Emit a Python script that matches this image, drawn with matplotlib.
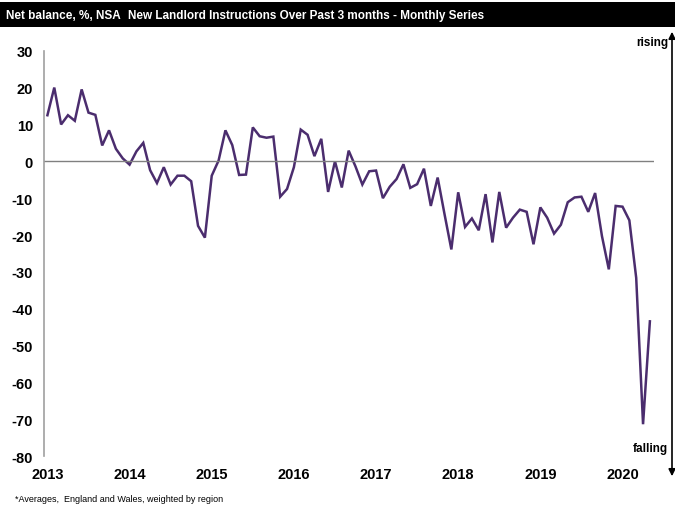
#!/usr/bin/env python3
#
# New landlord instructions, net balance, monthly series

import numpy as np
import matplotlib as mpl
mpl.use('Agg')
import matplotlib.pyplot as plt
from matplotlib.patches import Rectangle, FancyArrowPatch

FONT = ['Liberation Sans', 'DejaVu Sans']
LINE_COLOR = '#4b2d6e'

# Monthly values, Jan 2013 .. May 2020
start_year = 2013
balance = [
    12.5, 20.0, 10.0, 12.5, 11.0, 19.5, 13.2, 12.6, 4.3, 8.4, 3.4, 0.8,
    -0.9, 2.7, 5.0, -2.4, -5.9, -1.6, -6.3, -3.9, -3.9, -5.4, -17.5, -20.7,
    -3.9, 0.2, 8.4, 4.4, -3.7, -3.6, 9.2, 6.8, 6.4, 6.7, -9.6, -7.5,
    -1.6, 8.6, 7.2, 1.4, 6.1, -8.3, 0.0, -7.1, 2.9, -1.4, -6.3, -2.7,
    -2.5, -10.0, -6.9, -4.8, -0.8, -7.2, -6.2, -2.0, -12.1, -4.4, -14.3, -23.9,
    -8.4, -17.8, -15.5, -18.7, -8.9, -22.0, -8.3, -18.0, -15.3, -13.1, -13.7, -22.5,
    -12.5, -15.3, -19.6, -17.2, -11.1, -9.8, -9.6, -13.7, -8.6, -20.3, -29.3, -12.1,
    -12.3, -16.0, -31.6, -71.3, -43.4,
]
year_labels = ['2013', '2014', '2015', '2016', '2017', '2018', '2019', '2020']
y_ticks = [30, 20, 10, 0, -10, -20, -30, -40, -50, -60, -70, -80]

plt.rcParams['font.family'] = FONT

fig = plt.figure(figsize=(6.75, 5.1), dpi=100, facecolor='white')
ax = fig.add_axes([44/675, 1 - 457.3/510, (654 - 44)/675, (457.3 - 51.7)/510])

months = np.arange(len(balance))
ax.plot(months, balance, color=LINE_COLOR, lw=1.8, solid_joinstyle='miter')
ax.axhline(0, color='#808080', lw=1)

ax.set_xlim(-0.5, 88.6)
ax.set_ylim(-80, 30)
ax.set_yticks(y_ticks)
ax.set_yticklabels([str(v) for v in y_ticks], fontsize=10.5, fontweight='bold')
ax.set_xticks(np.arange(len(year_labels)) * 12)
ax.set_xticklabels(year_labels, fontsize=10.5, fontweight='bold')
ax.tick_params(axis='both', length=0)
ax.tick_params(axis='y', pad=8)
ax.tick_params(axis='x', pad=8)

for s in ['top', 'right', 'bottom']:
    ax.spines[s].set_visible(False)
ax.spines['left'].set_color('#a0a0a0')
ax.spines['left'].set_linewidth(1.2)

# Black title bar
fig.patches.append(Rectangle((0, 1 - 28/510), 1, 25/510, transform=fig.transFigure,
                             facecolor='black', edgecolor='none', zorder=0))
fig.text(6/675, 1 - 16/510, 'Net balance, %, NSA', color='white', fontsize=8.5,
         fontweight='bold', va='center', ha='left')
fig.text(128/675, 1 - 16/510, 'New Landlord Instructions Over Past 3 months - Monthly Series',
         color='white', fontsize=8.5, fontweight='bold', va='center', ha='left')

# rising / falling arrow on the right edge
arrow = FancyArrowPatch((672/675, 1 - 480/510), (672/675, 1 - 30/510),
                        transform=fig.transFigure, arrowstyle='<|-|>,head_length=4,head_width=2',
                        color='black', lw=1.2)
fig.patches.append(arrow)
fig.text(668/675, 1 - 43/510, 'rising', fontsize=8.5, fontweight='bold', ha='right', va='center')
fig.text(668/675, 1 - 449/510, 'falling', fontsize=8.5, fontweight='bold', ha='right', va='center')

fig.text(15/675, 1 - 500/510, '*Averages,  England and Wales, weighted by region',
         fontsize=6.5, ha='left', va='center')

fig.savefig('out.png', dpi=100)
